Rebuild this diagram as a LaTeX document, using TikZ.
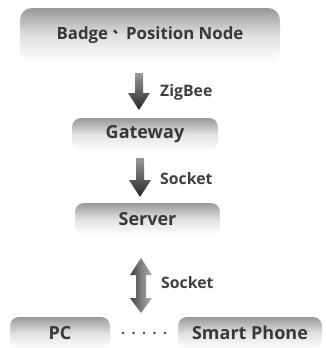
\documentclass[tikz,border=0pt]{standalone}
\usepackage{fontspec}
\setmainfont{Open Sans}
\newfontfamily\cjk{Noto Sans CJK SC}
\usetikzlibrary{calc}

\tikzset{
  box/.style={rounded corners=9pt, top color=black!40, bottom color=white,
    middle color=black!12, text=black!78,
    font=\bfseries\fontsize{18}{20}\selectfont, inner sep=0pt},
  lbl/.style={anchor=west, text=black!75, font=\bfseries\fontsize{15.8}{18}\selectfont, inner sep=0pt},
  arrowshade/.style={top color=black!40, bottom color=black!85},
  dualshade/.style={left color=black!75, right color=black!30, middle color=black!50},
}

% downward block arrow from #1 to #2 (same x)
\newcommand\blockdown[2]{%
  \shade[arrowshade] let \p1=(#1), \p2=(#2) in
    (\x1-4pt,\y1) -- (\x1+4pt,\y1) -- (\x1+4pt,\y2+17pt) -- (\x1+11pt,\y2+17pt)
    -- (\x1,\y2) -- (\x1-11pt,\y2+17pt) -- (\x1-4pt,\y2+17pt) -- cycle;}

% two-headed block arrow from #1 (top tip) to #2 (bottom tip)
\newcommand\blockboth[2]{%
  \shade[dualshade] let \p1=(#1), \p2=(#2) in
    (\x1,\y1) -- (\x1+11pt,\y1-17pt) -- (\x1+5pt,\y1-17pt) -- (\x1+5pt,\y2+15pt)
    -- (\x1+11pt,\y2+15pt) -- (\x1,\y2) -- (\x1-11pt,\y2+15pt) -- (\x1-5pt,\y2+15pt)
    -- (\x1-5pt,\y1-17pt) -- (\x1-11pt,\y1-17pt) -- cycle;}

\begin{document}
\begin{tikzpicture}[x=1pt,y=-1pt]
\useasboundingbox (0,0) rectangle (325,348);
\fill[white] (0,0) rectangle (325,348);

\node[box, minimum width=260pt, minimum height=55pt, rounded corners=12pt,
      font=\bfseries\fontsize{16.8}{19}\selectfont] (badge) at (150,35.5)
  {Badge\makebox[18pt][l]{\hspace{4.5pt}\raisebox{6pt}{\cjk\bfseries\fontsize{14}{14}\selectfont 、}}Position Node};
\node[box, minimum width=146pt, minimum height=32pt] (gw) at (145,134) {Gateway};
\node[box, minimum width=145pt, minimum height=32pt] (srv) at (147.5,219) {Server};
\node[box, minimum width=100pt, minimum height=32pt] (pc) at (60,333) {PC};
\node[box, minimum width=144pt, minimum height=32pt] (phone) at (250,333) {Smart Phone};

% the row of dots between the two clients
\path (pc.east) -- (phone.west) coordinate[pos=0.5] (mid);
\foreach \i in {-2,...,2}
  \fill[black!75] ([xshift=\i*10.5pt]mid) circle (1.3pt);

% arrow end points
\coordinate (z1) at (139,73);  \coordinate (z2) at (139,110);
\coordinate (s1) at (140,158); \coordinate (s2) at (140,197);
\coordinate (d1) at (141,258); \coordinate (d2) at (141,313);

\blockdown{z1}{z2}
\blockdown{s1}{s2}
\blockboth{d1}{d2}

\node[lbl] (zig) at (160,92) {ZigBee};
\node[lbl] (sock1) at (160,179) {Socket};
\node[lbl] (sock2) at (161,283) {Socket};
\end{tikzpicture}
\end{document}
